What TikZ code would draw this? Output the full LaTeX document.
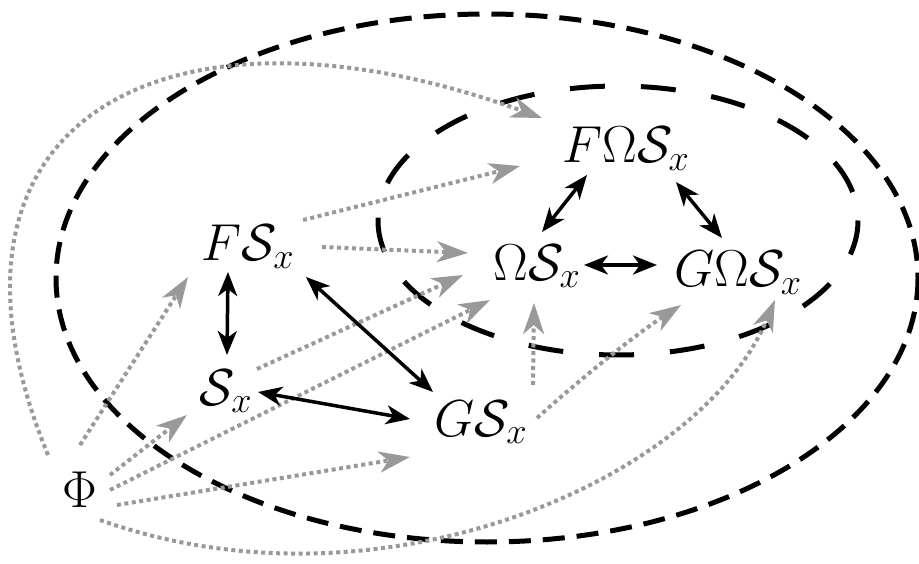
\RequirePackage{fix-cm}
\documentclass[tikz,border=0pt]{standalone}
\usetikzlibrary{arrows.meta,calc}
\begin{document}
\begin{tikzpicture}[x=1pt,y=-1pt,
  lbl/.style={font=\fontsize{52}{60}\selectfont, inner sep=0pt, anchor=base},
  bi/.style={line width=3.5pt, {Stealth[length=24pt,width=19pt,inset=7pt]}-{Stealth[length=24pt,width=19pt,inset=7pt]}},
  gr/.style={draw=black!40, line width=4pt, dash pattern=on 4pt off 3.5pt, -{Stealth[length=31pt,width=21pt,inset=9pt]}},
  bigell/.style={line width=5pt, dash pattern=on 22pt off 12pt},
  smallell/.style={line width=5pt, dash pattern=on 35pt off 36pt},
]
\useasboundingbox (0,0) rectangle (919,564);

% dashed regions
\draw[bigell] (487,278) ellipse [x radius=431, y radius=264];
\draw[smallell] (618,220.5) ellipse [x radius=240, y radius=134.5];

% labels
\node[lbl] (fos) at (626,163) {$F\Omega\mathcal{S}_x$};
\node[lbl] (os)  at (537,280) {$\Omega\mathcal{S}_x$};
\node[lbl] (gos) at (738,287) {$G\Omega\mathcal{S}_x$};
\node[lbl] (fs)  at (248,261) {$F\mathcal{S}_x$};
\node[lbl] (s)   at (226,405) {$\mathcal{S}_x$};
\node[lbl] (gs)  at (481,436) {$G\mathcal{S}_x$};
\node[lbl] (phi) at (80,507)  {$\Phi$};

% gray dotted arrows
\draw[gr] ([shift={(0,-62)}]phi.base) -- ([shift={(-60,16)}]fs.base);
\draw[gr] ([shift={(30,-32)}]phi.base) -- ([shift={(-39,10)}]s.base);
\draw[gr] ([shift={(30,-17)}]phi.base) -- ([shift={(-47,20)}]os.base);
\draw[gr] ([shift={(37,-2)}]phi.base) -- ([shift={(-71,21)}]gs.base);
\draw[gr] ([shift={(20,13)}]phi.base) .. controls (380,620) and (700,480) .. ([shift={(37,13)}]gos.base);
\draw[gr] ([shift={(-32,-52)}]phi.base) .. controls (-90,120) and (166,-18) .. ([shift={(-84,-45)}]fos.base);
\draw[gr] ([shift={(55,-41)}]fs.base) -- ([shift={(-106,3)}]fos.base);
\draw[gr] ([shift={(74,-14)}]fs.base) -- ([shift={(-69,-27)}]os.base);
\draw[gr] ([shift={(31,-36)}]s.base) -- ([shift={(-74,-5)}]os.base);
\draw[gr] ([shift={(56,-18)}]gs.base) .. controls (585,375) and (635,335) .. ([shift={(-57,18)}]gos.base);
\draw[gr] ([shift={(52,-51)}]gs.base) -- ([shift={(-3,23)}]os.base);

% black double arrows
\draw[bi] ([shift={(-20,11)}]fs.base) -- ([shift={(1,-50)}]s.base);
\draw[bi] ([shift={(58,16)}]fs.base) -- ([shift={(-48,-44)}]gs.base);
\draw[bi] ([shift={(32,-13)}]s.base) -- ([shift={(-71,-17)}]gs.base);
\draw[bi] ([shift={(-39,12)}]fos.base) -- ([shift={(5,-48)}]os.base);
\draw[bi] ([shift={(50,19)}]fos.base) -- ([shift={(-16,-49)}]gos.base);
\draw[bi] ([shift={(47,-15)}]os.base) -- ([shift={(-81,-22)}]gos.base);
\end{tikzpicture}
\end{document}
